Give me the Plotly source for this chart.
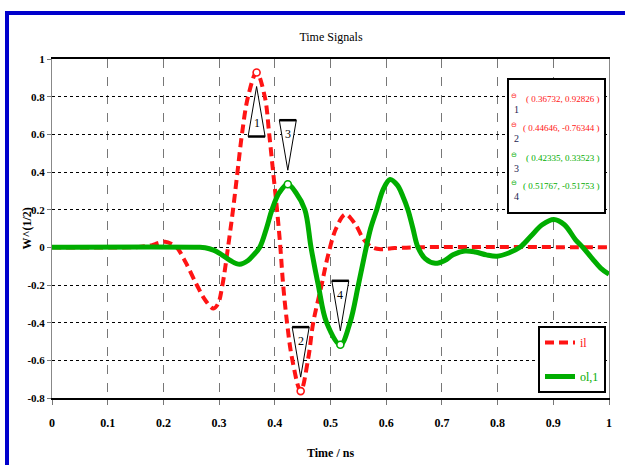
import plotly.graph_objects as go

# ---------------- data ----------------
t_il = [0.00, 0.14, 0.16, 0.18, 0.19, 0.203, 0.215, 0.224, 0.24, 0.26, 0.275, 0.29,
        0.298, 0.306, 0.316, 0.325, 0.333, 0.341, 0.352, 0.36732, 0.382, 0.390, 0.397,
        0.404, 0.41, 0.415, 0.422, 0.431, 0.44646, 0.46, 0.469, 0.484, 0.495, 0.51,
        0.527, 0.545, 0.56, 0.575, 0.59, 0.61, 0.65, 1.00]
v_il = [0.0, 0.0, 0.003, 0.012, 0.022, 0.03, 0.018, 0.0, -0.08, -0.2, -0.28, -0.325,
        -0.3, -0.2, 0.0, 0.2, 0.4, 0.6, 0.8, 0.92826, 0.8, 0.6, 0.4,
        0.2, 0.0, -0.2, -0.4, -0.59, -0.76344, -0.59, -0.4, -0.2, -0.05, 0.1,
        0.175, 0.12, 0.04, 0.0, -0.01, -0.005, 0.0, 0.0]

t_ol = [0.00, 0.26, 0.275, 0.29, 0.305, 0.32, 0.337, 0.352, 0.362, 0.373, 0.385, 0.395,
        0.408, 0.42335, 0.438, 0.454, 0.465, 0.478, 0.493, 0.51767, 0.535, 0.55, 0.562,
        0.572, 0.583, 0.595, 0.607, 0.62, 0.63, 0.639, 0.648, 0.657, 0.67, 0.688, 0.705,
        0.72, 0.741, 0.76, 0.78, 0.799, 0.82, 0.84, 0.86, 0.88, 0.901, 0.92, 0.94, 0.953,
        0.97, 0.985, 1.00]
v_ol = [0.0, 0.0, -0.002, -0.015, -0.04, -0.07, -0.09, -0.07, -0.04, 0.0, 0.1, 0.2,
        0.29, 0.33523, 0.29, 0.2, 0.0, -0.2, -0.4, -0.51753, -0.4, -0.2, -0.03,
        0.1, 0.2, 0.31, 0.36, 0.33, 0.27, 0.2, 0.1, 0.0, -0.06, -0.085, -0.07,
        -0.04, -0.02, -0.025, -0.04, -0.047, -0.03, 0.0, 0.06, 0.12, 0.148, 0.12, 0.04, 0.0,
        -0.06, -0.11, -0.143]

series_names = ["il", "ol,1"]

mark_ids = ["1", "2", "3", "4"]
mark_x = [0.36732, 0.44646, 0.42335, 0.51767]
mark_y = [0.92826, -0.76344, 0.33523, -0.51753]
mark_series = [0, 0, 1, 1]

x_ticks = [0, 0.1, 0.2, 0.3, 0.4, 0.5, 0.6, 0.7, 0.8, 0.9, 1]
x_tick_text = ["0", "0.1", "0.2", "0.3", "0.4", "0.5", "0.6", "0.7", "0.8", "0.9", "1"]
y_ticks = [-0.8, -0.6, -0.4, -0.2, 0, 0.2, 0.4, 0.6, 0.8, 1]
y_tick_text = ["-0.8", "-0.6", "-0.4", "-0.2", "0", "0.2", "0.4", "0.6", "0.8", "1"]

# ---------------- style ----------------
RED = "#ff1414"
GREEN = "#00ad00"
NAVY = "#1c1c50"
FONT = "Liberation Serif"
W, H = 625, 465
ML, MR, MT, MB = 52, 16, 59, 67
PW, PH = W - ML - MR, H - MT - MB
XR = [0, 1]
YR = [-0.8, 1]
DX = (XR[1] - XR[0]) / PW          # data units per pixel
DY = (YR[1] - YR[0]) / PH


def px_x(px):
    return (px - ML) / PW


def px_y(py):
    return (H - MB - py) / PH


colors = [RED, GREEN]

fig = go.Figure()
fig.add_trace(go.Scatter(
    x=t_il, y=v_il, mode="lines", line_shape="spline",
    name=f"<span style='color:{RED}'>{series_names[0]}</span>",
    line=dict(color=RED, width=4, dash="9px,5px"),
    legendgroup="a"))
fig.add_trace(go.Scatter(
    x=t_ol, y=v_ol, mode="lines", line_shape="spline",
    name=f"<span style='color:{GREEN}'>{series_names[1]}</span>",
    line=dict(color=GREEN, width=5),
    legendgroup="b"))

# marker points
for i in range(len(mark_ids)):
    c = colors[mark_series[i]]
    fig.add_trace(go.Scatter(
        x=[mark_x[i]], y=[mark_y[i]], mode="markers", showlegend=False,
        marker=dict(symbol="circle", size=7, color="white",
                    line=dict(color=c, width=1.6))))

shapes = []
annotations = []

# callout triangles
for i in range(len(mark_ids)):
    mx, my = mark_x[i], mark_y[i]
    up = my + 64 * DY > YR[1]
    s = -1 if up else 1
    apex = my + s * 14 * DY
    base = my + s * 64 * DY
    xl, xr = mx - 8.5 * DX, mx + 8.5 * DX
    shapes.append(dict(type="path", xref="x", yref="y",
                       path=f"M {mx} {apex} L {xl} {base} L {xr} {base} Z",
                       fillcolor="white", line=dict(color="black", width=1)))
    shapes.append(dict(type="line", xref="x", yref="y", x0=xl, x1=xr, y0=base, y1=base,
                       line=dict(color="black", width=2.5)))
    annotations.append(dict(x=mx, y=my + s * 50 * DY, xref="x", yref="y",
                            xanchor="center", yanchor="middle",
                            text=mark_ids[i], showarrow=False,
                            font=dict(family=FONT, size=12, color="black")))

# marker readout box
shapes.append(dict(type="rect", xref="paper", yref="paper",
                   x0=px_x(508), x1=px_x(605), y0=px_y(213), y1=px_y(79),
                   fillcolor="white", line=dict(color="black", width=2), layer="above"))
row_y = [99, 128, 158, 186]
for i in range(len(mark_ids)):
    c = colors[mark_series[i]]
    annotations.append(dict(x=px_x(514), y=px_y(row_y[i] - 3), xref="paper", yref="paper",
                            xanchor="center", yanchor="middle",
                            text="⊖", showarrow=False,
                            font=dict(family="DejaVu Sans", size=7, color=c)))
    annotations.append(dict(x=px_x(516), y=px_y(row_y[i] + 10), xref="paper", yref="paper",
                            xanchor="center", yanchor="middle",
                            text=mark_ids[i], showarrow=False,
                            font=dict(family=FONT, size=10, color=NAVY)))
    annotations.append(dict(x=px_x(602), y=px_y(row_y[i]), xref="paper", yref="paper",
                            xanchor="right", yanchor="middle",
                            text=f"( {mark_x[i]:.5f}, {mark_y[i]:.5f} )", showarrow=False,
                            font=dict(family=FONT, size=9, color=c)))

# y-axis title
annotations.append(dict(x=px_x(26), y=0.5, xref="paper", yref="paper",
                        xanchor="center", yanchor="middle",
                        text="<b>W^(1/2)</b>", textangle=-90, showarrow=False,
                        font=dict(family=FONT, size=12, color="black")))

# blue frame around the page
shapes.append(dict(type="rect", xref="paper", yref="paper",
                   x0=px_x(7), y0=px_y(500), x1=px_x(660), y1=px_y(13),
                   line=dict(color="#0000cc", width=4), fillcolor="rgba(0,0,0,0)",
                   layer="above"))

fig.update_layout(
    width=W, height=H,
    margin=dict(l=ML, r=MR, t=MT, b=MB),
    paper_bgcolor="white", plot_bgcolor="white",
    title=dict(text="Time Signals", x=(ML + px_x(331) * PW) / W, xanchor="center",
               y=1 - 37 / H, yanchor="middle",
               font=dict(family=FONT, size=12, color="black")),
    xaxis=dict(range=XR, tickvals=x_ticks, ticktext=x_tick_text, automargin=False,
               showline=True, linecolor="black", linewidth=2, mirror=True,
               ticks="outside", ticklen=5, tickcolor="#777", ticklabelstandoff=8,
               showgrid=True, gridcolor="#777", griddash="dash", gridwidth=1,
               zeroline=False,
               tickfont=dict(family=FONT, size=12, color="black", weight="bold"),
               title=dict(text="<b>Time / ns</b>", standoff=19,
                          font=dict(family=FONT, size=12, color="black"))),
    yaxis=dict(range=YR, tickvals=y_ticks, ticktext=y_tick_text, automargin=False,
               showline=True, linecolor="#888", linewidth=1, mirror=True,
               ticks="outside", ticklen=4, tickcolor="#777",
               showgrid=True, gridcolor="black", griddash="dot", gridwidth=1,
               zeroline=False,
               tickfont=dict(family=FONT, size=11, color="black", weight="bold")),
    legend=dict(x=px_x(606), xanchor="right", y=px_y(393), yanchor="bottom",
                bordercolor="black", borderwidth=2, bgcolor="white",
                traceorder="grouped", tracegroupgap=15, itemwidth=30,
                font=dict(family=FONT, size=12, color="black")),
    shapes=shapes,
    annotations=annotations,
)

fig.write_html("out.html")
